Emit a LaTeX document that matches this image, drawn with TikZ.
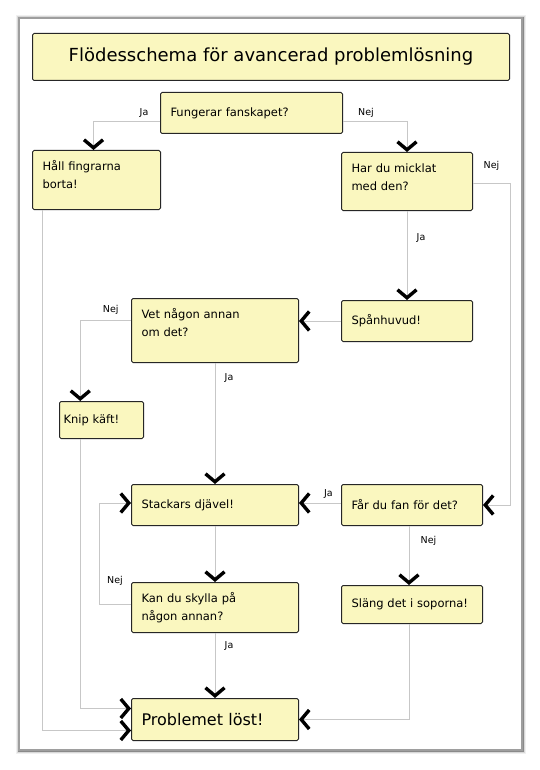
\documentclass[tikz,border=0pt]{standalone}
\usepackage{fontspec}
\setmainfont{DejaVu Sans}
\usepackage{xcolor}
\usepackage{tikz}
\usetikzlibrary{arrows.meta,calc}
\definecolor{boxyellow}{rgb}{0.98,0.97,0.75}
\definecolor{boxedge}{gray}{0.15}
\definecolor{linegray}{gray}{0.78}
\definecolor{framegray}{gray}{0.62}
\newcommand{\topbox}[2]{\parbox[t][#1][t]{\linewidth}{\strut #2}}
\tikzset{
  stepbox/.style={draw=boxedge, fill=boxyellow, line width=1pt, rounded corners=1.5pt,
    anchor=north west, align=left, inner xsep=10pt, inner ysep=7pt,
    font=\fontsize{11.5}{18}\selectfont},
  flow/.style={draw=linegray, line width=0.8pt,
    -{Straight Barb[color=black, length=8pt, width=19pt, line width=3.4pt]}},
  answer/.style={font=\fontsize{9.5}{11}\selectfont}
}
\begin{document}
\begin{tikzpicture}[x=1pt,y=-1pt]
  \useasboundingbox (0,0) rectangle (540,770);
  % panel with soft shadow
  \foreach \s/\o in {6/0.06,4/0.1,2.5/0.15,1.2/0.25}
    \draw[line width=\s, draw=black, opacity=\o] (19,18) rectangle (523,751);
  \draw[fill=white, draw=framegray, line width=1.5pt] (19,18) rectangle (522,750);

  % boxes
  \node[stepbox, minimum width=477, minimum height=47, align=center,
        font=\fontsize{18}{20}\selectfont] (title) at (32,33)
        {Flödesschema för avancerad problemlösning};
  \node[stepbox, text width=162, minimum height=41] (fungerar) at (160,92) {Fungerar fanskapet?};
  \node[stepbox, text width=108] (hall) at (32,150) {\topbox{45pt}{Håll fingrarna\\borta!}};
  \node[stepbox, text width=111] (har) at (341,152) {\topbox{44pt}{Har du micklat\\med den?}};
  \node[stepbox, text width=111, minimum height=41] (span) at (341,300) {Spånhuvud!};
  \node[stepbox, text width=147] (vet) at (131,298) {\topbox{50pt}{Vet någon annan\\om det?}};
  \node[stepbox, text width=76, inner xsep=4pt, minimum height=37] (knip) at (59,401) {Knip käft!};
  \node[stepbox, text width=147, minimum height=41] (stackars) at (131,484) {Stackars djävel!};
  \node[stepbox, text width=121, minimum height=41] (far) at (341,484) {Får du fan för det?};
  \node[stepbox, text width=147] (kan) at (131,582) {\topbox{36pt}{Kan du skylla på\\någon annan?}};
  \node[stepbox, text width=121, minimum height=38] (slang) at (341,585) {Släng det i soporna!};
  \node[stepbox, text width=147, minimum height=42,
        font=\fontsize{16}{18}\selectfont] (problem) at (131,698) {Problemet löst!};

  % connectors
  \draw[flow] ([yshift=-8pt]fungerar.west) -| ([xshift=-3pt]hall.north)
        node[answer, pos=0.12, above] {Ja};
  \draw[flow] ([yshift=-8pt]fungerar.east) -| (har.north)
        node[answer, pos=0.18, above] {Nej};
  \draw[flow] ([yshift=-2pt]har.east) -- ++(37,0)
        node[answer, midway, above=9pt] {Nej} |- (far.east);
  \draw[flow] (har.south) -- (span.north)
        node[answer, pos=0.3, right=6pt] {Ja};
  \draw[flow] (span.west) -- (span.west -| vet.east);
  \draw[flow] ([yshift=10pt]vet.west) -| ($(knip.north west)!0.25!(knip.north east)$)
        node[answer, pos=0.2, above=2pt] {Nej};
  \draw[flow] (vet.south) -- (stackars.north)
        node[answer, pos=0.12, right=6pt] {Ja};
  \draw[flow] ($(knip.south west)!0.25!(knip.south east)$) |- ([yshift=11pt]problem.west);
  \draw[flow] ($(hall.south west)!0.08!(hall.south east)$) |- ([yshift=-11pt]problem.west);
  \draw[flow] ([yshift=2pt]far.west) -- ([yshift=2pt]far.west -| stackars.east)
        node[answer, pos=0.3, above=1pt] {Ja};
  \draw[flow] (stackars.south) -- (kan.north);
  \draw[flow] ([yshift=3pt]kan.west) -- ++(-32,0)
        node[answer, midway, above=15pt] {Nej} |- ([yshift=2pt]stackars.west);
  \draw[flow] ([xshift=-3pt]far.south) -- ([xshift=-3pt]far.south |- slang.north)
        node[answer, pos=0.25, right=8pt] {Nej};
  \draw[flow] (kan.south) -- (problem.north)
        node[answer, pos=0.2, right=6pt] {Ja};
  \draw[flow] ([xshift=-3pt]slang.south) |- (problem.east);
\end{tikzpicture}
\end{document}
